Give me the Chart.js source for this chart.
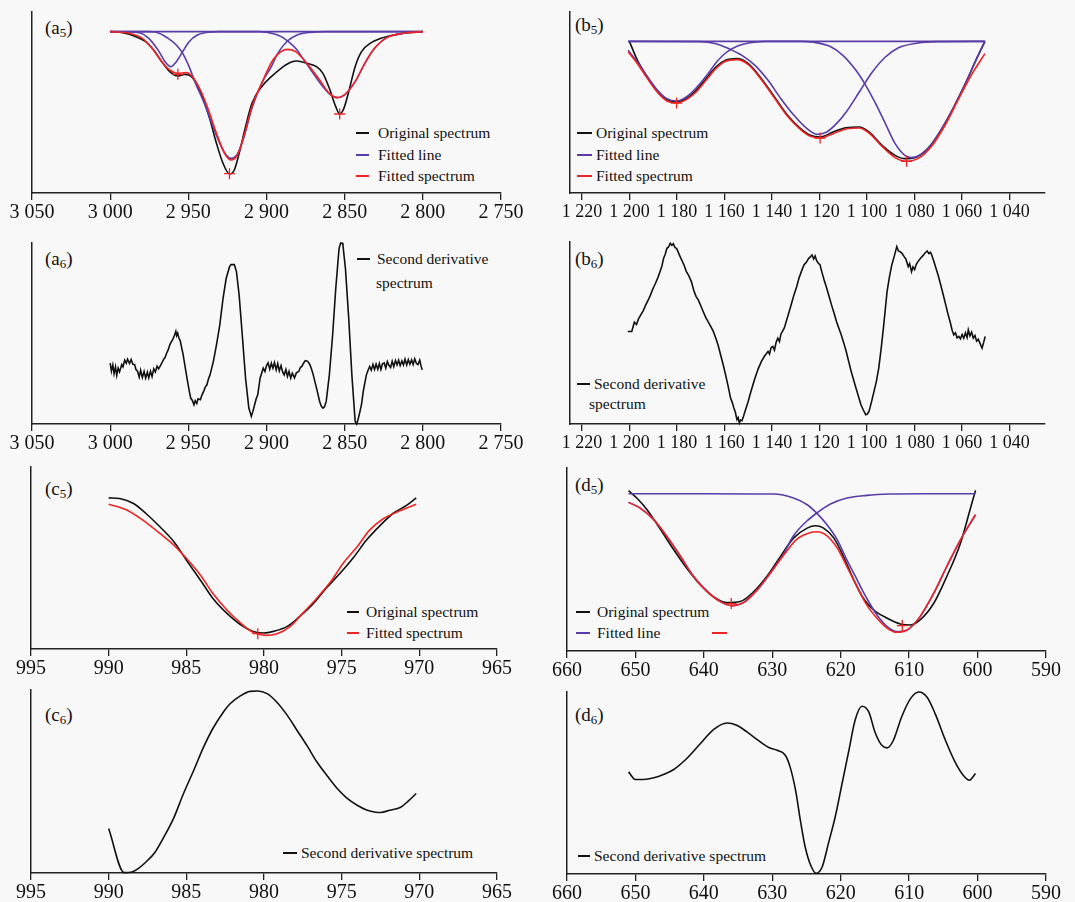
<!DOCTYPE html>
<html><head><meta charset="utf-8">
<script src="https://cdn.jsdelivr.net/npm/chart.js@4.4.1/dist/chart.umd.min.js"></script>
<style>
html,body{margin:0;padding:0;background:#f8f8f8;}
body{width:1075px;height:902px;position:relative;overflow:hidden;font-family:'Liberation Serif','Times New Roman',serif;}
.cv{position:absolute;}
.t{position:absolute;font-size:15.5px;line-height:18px;white-space:nowrap;color:#111;}
.lbl{position:absolute;font-size:19px;line-height:22px;white-space:nowrap;color:#111;}
.lbl sub{font-size:13px;vertical-align:-3px;line-height:0;}
.ln{position:absolute;height:1.6px;}
</style></head><body>

<div class="lbl" style="left:45px;top:17px">(a<sub>5</sub>)</div>
<div class="lbl" style="left:575px;top:14px">(b<sub>5</sub>)</div>
<div class="lbl" style="left:45px;top:248px">(a<sub>6</sub>)</div>
<div class="lbl" style="left:575px;top:248px">(b<sub>6</sub>)</div>
<div class="lbl" style="left:45px;top:478px">(c<sub>5</sub>)</div>
<div class="lbl" style="left:575px;top:474px">(d<sub>5</sub>)</div>
<div class="lbl" style="left:45px;top:704px">(c<sub>6</sub>)</div>
<div class="lbl" style="left:575px;top:704px">(d<sub>6</sub>)</div>

<!-- a5 legend -->
<div class="ln" style="left:356px;top:132px;width:13px;background:#111"></div>
<div class="t" style="left:378px;top:124px">Original spectrum</div>
<div class="ln" style="left:356px;top:154px;width:13px;background:#5a3ca8"></div>
<div class="t" style="left:378px;top:146px">Fitted line</div>
<div class="ln" style="left:356px;top:175px;width:13px;background:#ec2424"></div>
<div class="t" style="left:378px;top:167px">Fitted spectrum</div>

<!-- b5 legend -->
<div class="ln" style="left:577px;top:132px;width:15px;background:#111"></div>
<div class="t" style="left:596px;top:124px">Original spectrum</div>
<div class="ln" style="left:577px;top:154px;width:15px;background:#5a3ca8"></div>
<div class="t" style="left:596px;top:146px">Fitted line</div>
<div class="ln" style="left:577px;top:175px;width:15px;background:#ec2424"></div>
<div class="t" style="left:596px;top:167px">Fitted spectrum</div>

<!-- a6 legend -->
<div class="ln" style="left:357px;top:258px;width:13px;background:#111"></div>
<div class="t" style="left:377px;top:250px">Second derivative</div>
<div class="t" style="left:376px;top:274px">spectrum</div>

<!-- b6 legend -->
<div class="ln" style="left:577px;top:383px;width:13px;background:#111"></div>
<div class="t" style="left:594px;top:375px">Second derivative</div>
<div class="t" style="left:589px;top:395px">spectrum</div>

<!-- c5 legend -->
<div class="ln" style="left:347px;top:611px;width:12px;background:#111"></div>
<div class="t" style="left:366px;top:603px">Original spectrum</div>
<div class="ln" style="left:347px;top:632px;width:12px;background:#ec2424"></div>
<div class="t" style="left:366px;top:624px">Fitted spectrum</div>

<!-- d5 legend -->
<div class="ln" style="left:576px;top:611px;width:14px;background:#111"></div>
<div class="t" style="left:597px;top:603px">Original spectrum</div>
<div class="ln" style="left:576px;top:632px;width:14px;background:#5a3ca8"></div>
<div class="t" style="left:597px;top:624px">Fitted line</div>
<div class="ln" style="left:712px;top:632px;width:15px;background:#ec2424"></div>

<!-- c6 legend -->
<div class="ln" style="left:283px;top:852px;width:14px;background:#111"></div>
<div class="t" style="left:301px;top:844px">Second derivative spectrum</div>

<!-- d6 legend -->
<div class="ln" style="left:578px;top:855px;width:12px;background:#111"></div>
<div class="t" style="left:594px;top:847px">Second derivative spectrum</div>

<script>
// ---------- tick values ----------
const aTicks = [3050, 3000, 2950, 2900, 2850, 2800, 2750];
const bTicks = [1220, 1200, 1180, 1160, 1140, 1120, 1100, 1080, 1060, 1040];
const cTicks = [995, 990, 985, 980, 975, 970, 965];
const dTicks = [660, 650, 640, 630, 620, 610, 600, 590];

// ---------- (a5) ----------
const a5OrigX = [3000,2991.8,2983.5,2977.3,2972.2,2967,2961.9,2956.7,2952.6,2948.5,2944.3,2940.2,2936.1,2932,2927.8,2923.7,2920.6,2917.5,2913.4,2909.3,2903.1,2896.9,2890.7,2884.5,2880.4,2874.2,2868,2863.9,2859.8,2855.7,2853.2,2850.5,2847.4,2843.3,2839.2,2833,2826.8,2818.6,2810.3,2800];
const a5OrigY = [48.4,48.1,46.9,45.4,42.9,39.4,36.4,35.1,35.6,35.1,32.4,27.9,21.9,14.9,8.9,5.7,6.9,11.9,19.9,26.9,31.9,34.9,37.4,39.2,39.6,38.9,37.9,35.9,31.4,25.9,23.7,25.4,30.4,37.9,42.4,45.1,46.4,47.4,48.1,48.4];
const a5FitX = [3000,2987.6,2979.4,2973.2,2967,2961.9,2956.7,2951.5,2947.4,2942.3,2937.1,2932,2926.8,2922.7,2918.6,2914.5,2909.3,2903.1,2895.9,2890.7,2886.6,2881.4,2874.2,2866,2859.8,2854.6,2849.5,2843.3,2837.1,2830.9,2822.7,2812.4,2800];
const a5FitY = [48.4,47.9,46.4,43.4,39.4,36.9,35.9,36.1,34.9,30.9,24.9,17.9,11.9,9.9,11.4,16.9,25.9,32.9,39.9,42.4,43.1,42.4,38.9,33.9,29.9,28.6,29.7,33.4,38.9,43.4,46.7,47.9,48.4];
const a5Line1X = [3000,2987.6,2981.4,2975.3,2969.1,2964.9,2961.2,2957.7,2953.6,2949.5,2944.3,2938.1,2930,2800];
const a5Line1Y = [48.4,48.3,48.1,46.4,42.7,39.4,37.9,39.4,42.4,45.4,47.4,48.2,48.4,48.4];
const a5Line2X = [3000,2975,2971.1,2962.9,2957.7,2953.6,2949.5,2945.4,2940.2,2935,2929.9,2925.8,2922.7,2918.6,2914.5,2909.3,2903.1,2896.9,2892.8,2886.6,2880.4,2872.2,2862,2800];
const a5Line2Y = [48.4,48.4,48.3,46.4,44.4,41.9,37.9,32.9,27.4,20.9,14.9,11.4,10.4,11.7,16.7,25.4,32.9,37.9,41.9,45.6,47.4,48.2,48.4,48.4];
const a5Line3X = [3000,2905,2894.8,2889.7,2886.6,2881.4,2876.3,2870.1,2863.9,2858.8,2854.6,2849.5,2843.3,2837.1,2830.9,2822.7,2812.4,2800];
const a5Line3Y = [48.4,48.4,47.7,46.7,45.6,43.4,40.1,35.9,31.9,29.4,28.6,29.7,33.4,38.9,43.4,46.7,47.9,48.4];
const a5PeakX = [2956.7, 2923.7, 2853.2];
const a5PeakY = [35.6, 5.8, 23.7];

// ---------- (a6) ----------
const a6X = [3000,2999.2,2998.3,2997.5,2996.6,2995.8,2994.9,2994,2992.6,2991.8,2990.7,2989.7,2988.9,2987.6,2986.6,2985.5,2984.4,2983.5,2982.5,2981.4,2980.5,2979.4,2978.3,2977.3,2976.2,2975.3,2974.2,2973.2,2972.1,2971.1,2970,2969,2967,2965.9,2964.9,2963.9,2962.9,2961.8,2960.8,2959.8,2958.8,2958,2957.5,2956.8,2956,2955.2,2954.2,2953.4,2952.6,2951.5,2950.5,2949.5,2948.5,2947.4,2946.4,2945.6,2944.6,2943.8,2942.3,2941.3,2940.2,2939.2,2938.1,2937.1,2936.1,2935,2934,2932,2929.9,2927.8,2925.8,2923.7,2922.7,2920.6,2919.2,2917.5,2915.5,2913.4,2911.3,2909.7,2908.7,2907.6,2906.6,2905.6,2904.1,2902.1,2901,2900,2899,2897.9,2896.9,2895.9,2894.9,2893.8,2892.8,2891.8,2890.7,2889.7,2888.7,2887.6,2886.6,2885.6,2884.5,2883.5,2882.1,2880.9,2879.4,2878.3,2877.3,2876.3,2875.2,2874.2,2873.2,2872.2,2871.1,2870.1,2868,2866,2864.9,2863.9,2862.9,2861.8,2859.8,2857.7,2855.7,2853.6,2852.6,2851.6,2851.1,2849.5,2847.4,2845.4,2843.3,2842.3,2841.3,2840.2,2839.2,2838.1,2837.1,2836.1,2835.1,2834,2833,2831.9,2830.9,2829.9,2828.8,2827.8,2826.8,2825.8,2824.7,2823.7,2822.7,2821.6,2820.6,2819.6,2818.6,2817.5,2816.5,2815.5,2814.5,2813.4,2812.4,2811.4,2810.3,2809.3,2808.3,2807.2,2806.2,2805.2,2804.1,2803.1,2802,2801.2,2800.4];
const a6Y = [18.3,15.9,17.8,15.1,17.2,14.6,16.8,15.7,17.9,17.2,19.2,18.3,19.5,18.2,19.4,18.0,17.9,16.4,15.9,14.1,16.2,14.0,15.8,13.8,15.6,13.9,15.9,14.3,16.6,15.7,17.4,16.6,
  18.3,19.4,20.0,21.3,22.3,23.9,24.8,25.6,26.8,27.9,26.6,27.4,25.8,25.1,22.8,21.1,18.8,15.6,12.8,10.2,7.8,7.1,5.8,7.0,6.2,7.6,7.3,8.7,9.8,11.1,11.8,13.6,14.8,16.9,18.8,23.8,29.8,37.8,43.8,47.3,48.0,48.0,45.8,38.8,26.8,13.8,4.8,2.3,3.8,5.8,7.6,8.8,13.8,16.8,
  15.8,17.6,18.4,16.5,18.3,16.8,18.5,16.3,18.2,16.0,17.6,15.7,14.8,16.4,14.3,15.8,13.8,15.3,13.9,15.4,
  15.8,17.0,17.4,18.3,19.1,19.0,18.6,17.8,16.4,14.8,10.8,6.8,5.3,4.8,5.2,6.8,14.8,26.8,40.8,52.8,54.5,54.5,53.8,46.8,31.8,14.8,0.8,0,1.6,3.8,6.0,9.8,12.4,14.8,16.1,
  17.3,16.2,17.9,16.4,18.0,16.5,18.2,16.4,18.1,18.4,16.8,18.8,17.6,17.0,18.9,17.3,19.1,17.8,19.2,17.6,19.0,17.8,19.5,17.8,19.4,18.0,19.3,17.9,19.6,18.2,17.9,19.2,17.6,16.3];

// ---------- (b5) ----------
const b5OrigX = [1200,1196.6,1192.4,1188.3,1184.2,1180.4,1176,1171.9,1167.7,1163.6,1159.5,1154.7,1149.9,1144.4,1138.9,1133.4,1127.9,1123.8,1119.7,1114.2,1108.7,1103.2,1099.1,1093.6,1088.1,1084,1079.9,1074.4,1068.9,1063.4,1057.9,1053.8,1050.3];
const b5OrigY = [45.5,39.8,34.8,30.8,28.0,27.3,28.3,30.8,34.3,37.8,39.8,40.3,38.8,34.3,28.8,23.3,19.3,17.3,16.8,18.3,19.6,19.8,18.3,14.3,11.3,10.3,10.6,13.3,18.8,25.8,33.8,40.3,45.5];
const b5FitX = [1200.5,1196.6,1192.4,1188.3,1184.2,1180.1,1176,1171.9,1167.7,1163.6,1159.5,1154.7,1149.9,1144.4,1138.9,1133.4,1127.9,1123.8,1119.7,1114.2,1108.7,1103.2,1099.1,1093.6,1088.1,1083.3,1078.5,1073,1067.5,1062,1056.5,1050.3];
const b5FitY = [42.3,38.8,34.3,30.3,27.6,27.0,28.0,30.3,33.8,37.3,39.5,40.0,38.5,34.0,28.5,23.0,19.0,17.0,16.5,17.8,19.2,19.5,18.0,14.0,10.6,9.5,10.3,13.8,19.8,27.3,34.8,41.8];
const b5Line1X = [1200.5,1196.6,1192.4,1188.3,1184.2,1180.1,1176,1171.9,1167.7,1163.6,1159.5,1154.7,1149.9,1143,1050.3];
const b5Line1Y = [42.8,39.2,34.8,30.9,28.3,27.6,28.8,31.5,35.0,39.0,42.0,44.0,45.0,45.5,45.5];
const b5Line2X = [1200.5,1170.5,1163.6,1158.1,1152.6,1147.1,1141.6,1136.2,1130.7,1125.2,1121.1,1116.9,1112.8,1108.7,1103.2,1097.7,1092.2,1086.7,1078.5,1070.3,1050.3];
const b5Line2Y = [45.5,45.4,44.8,43.3,41.3,38.3,33.8,28.3,23.3,19.3,17.6,18.3,20.8,24.3,30.3,36.3,40.8,43.6,45.0,45.4,45.5];
const b5Line3X = [1200.5,1128,1122.4,1115.6,1110.1,1104.6,1100.5,1096.3,1092.2,1088.1,1084,1081.2,1077.1,1073,1068.9,1063.4,1057.9,1053.8,1050.3];
const b5Line3Y = [45.5,45.5,45.2,44.0,41.3,36.8,32.3,26.8,20.8,14.8,11.3,10.6,11.6,14.3,18.8,25.8,33.8,40.3,45.5];
const b5PeakX = [1180.1, 1119.7, 1083.3];
const b5PeakY = [27.0, 16.5, 9.5];

// ---------- (b6) ----------
const b6X = [1200.7,1199,1197.9,1197,1196.2,1195.2,1194.2,1193.1,1192.1,1191.1,1190,1189,1188,1187,1186.3,1185.6,1184.9,1184.2,1183.5,1182.8,1182.1,1181.5,1180.8,1180.1,1179,1178,1177,1176,1175,1173.9,1172.9,1171.9,1171,1169.8,1168.8,1167.7,1166.8,1165.7,1164.7,1163.6,1162.6,1161.6,1160.5,1159.5,1158.5,1157.4,1156.7,1156,1155.4,1154.7,1154.2,1153.7,1153.2,1152.6,1151.9,1151.3,1150.2,1149.2,1148.1,1147.1,1145.8,1144.4,1143,1141.6,1141,1140.3,1139.6,1138.9,1138.2,1137.5,1136.8,1136.2,1134.8,1133.8,1132.7,1131.7,1130.7,1129.6,1128.6,1127.6,1126.5,1125.5,1124.5,1123.8,1123.1,1122.4,1121.8,1121.1,1120.4,1119.7,1119,1118,1116.9,1115.9,1114.9,1113.8,1112.8,1111.8,1110.8,1109.7,1108.7,1107.7,1106.6,1105.6,1104.6,1103.5,1102.5,1101.5,1100.5,1099.8,1099.1,1098,1097,1096,1095,1093.9,1092.9,1092.2,1091.5,1090.5,1089.5,1088.4,1087.4,1086.7,1086,1085.2,1084.3,1083.6,1082.6,1082,1081.2,1080.6,1079.9,1079.2,1078.5,1077.4,1076.4,1075.5,1074.6,1073.9,1073.2,1072.7,1071.8,1070.9,1069.9,1068.9,1067.9,1066.8,1065.8,1064.8,1064.1,1063.4,1062.7,1062,1061.3,1060.6,1059.9,1059.2,1058.5,1057.8,1057.3,1056.6,1055.9,1055.2,1054.5,1053.8,1053.1,1052.4,1051.5,1050.8,1050.2];
const b6Y = [27.8,27.8,30.6,29.9,31.5,32.8,34.0,35.8,37.2,38.8,40.8,42.3,44.0,46.0,47.5,49.8,51.0,52.8,53.2,54.3,53.7,54.2,53.0,52.8,50.9,49.3,47.8,45.8,44.6,42.8,40.2,38.3,37.3,35.3,33.6,31.8,30.7,29.3,27.9,25.8,23.6,20.8,17.8,14.8,11.6,7.8,6.5,4.8,3.6,1.3,1.9,0.3,1.2,1.0,2.4,3.8,6.2,8.8,11.5,13.8,16.5,18.8,20.5,21.8,21.0,23.0,23.3,22.2,24.6,25.8,24.8,27.0,28.8,31.2,33.8,36.3,38.8,41.2,43.8,45.8,47.8,48.6,49.8,50.2,50.8,49.6,50.5,49.0,48.3,47.8,45.8,43.3,40.8,38.3,35.8,33.3,30.8,28.8,26.8,24.3,21.8,18.9,15.8,13.3,10.8,8.2,5.8,4.2,2.8,3.0,3.8,6.8,9.8,12.8,16.8,23.2,29.8,34.8,39.8,44.2,47.8,50.6,53.3,52.0,51.8,51.3,50.3,49.6,47.3,48.2,45.8,47.2,46.4,48.0,48.8,49.8,50.6,51.4,52.0,51.2,51.6,50.8,48.9,46.8,44.5,41.8,39.0,35.8,32.9,30.3,28.2,26.8,27.4,25.9,26.3,25.6,26.9,25.8,27.4,26.0,28.3,26.5,27.6,25.8,26.6,24.9,25.5,24.3,22.8,24.6,26.3];

// ---------- (c5) ----------
const c5OrigX = [990,989.3,988.4,987.6,986.7,985.8,985,984.1,983.3,982.4,981.5,980.7,980,979.4,978.5,977.7,976.8,976,975.1,974.2,973.4,972.5,971.7,970.8,970.2];
const c5OrigY = [45.5,45.3,43.8,40.8,36.8,32.3,26.8,20.8,15.3,10.8,7.3,5.3,4.8,5.3,6.8,9.8,13.8,18.3,22.8,27.8,32.8,37.3,40.8,43.3,45.5];
const c5FitX = [990,988.8,987.8,986.7,985.8,985,984.1,983.3,982.4,981.5,980.7,979.9,979.2,978.3,977.5,976.6,975.7,974.9,974,973.2,972.3,971.4,970.2];
const c5FitY = [43.6,41.8,38.8,34.8,31.3,27.3,22.3,16.8,11.8,7.8,5.0,4.1,4.5,6.8,10.8,15.3,20.3,25.8,30.8,35.8,39.3,41.3,43.6];
const c5PeakX = [980.4];
const c5PeakY = [4.6];

// ---------- (c6) ----------
const c6X = [990,989,988.5,988.1,987.6,987,986.5,985.8,985.2,984.5,983.9,983.3,982.6,982.2,981.5,980.9,980.4,979.8,979.2,978.5,977.9,977.2,976.6,975.9,975.3,974.7,974,973.4,972.8,972.5,971.9,971.2,970.7,970.2];
const c6Y = [13.3,0.1,0.3,1.3,3.3,6.3,10.3,16.6,23.6,31.0,37.6,43.2,48.3,50.6,53.1,54.4,54.5,53.7,51.3,47.2,42.9,37.9,33.3,28.9,25.4,22.6,20.3,18.9,18.2,18.1,18.8,19.7,21.6,23.8];

// ---------- (d5) ----------
const d5OrigX = [651,649.8,648.3,646.3,644.4,642.5,640.5,638.6,636.6,634.7,632.7,630.8,628.8,626.9,624.9,623.7,622.5,621,619.6,618.1,616.7,615.2,613.2,611.3,609.8,608.4,606.4,604.5,602.5,601.1,600.3];
const d5OrigY = [48.0,45.8,42.3,36.3,30.3,24.8,19.8,16.3,14.5,14.8,17.8,22.3,28.3,33.8,36.8,37.5,36.8,33.8,28.3,21.3,15.8,12.3,9.8,8.1,7.8,9.3,14.3,22.3,32.3,42.3,48.1];
const d5FitX = [651,649.3,647.3,645.4,643.4,641.5,639.5,637.6,635.9,634.2,632.2,630.3,628.3,626.4,624.4,623.5,622,620.5,619.1,617.6,616.2,614.7,613.2,611.8,610.3,608.4,606.4,604.5,602.5,600.3];
const d5FitY = [44.5,42.8,39.3,34.3,28.3,22.3,17.8,14.8,13.6,14.5,18.3,23.3,28.8,33.5,35.5,35.7,34.5,30.8,25.3,19.3,13.8,9.8,6.8,5.6,6.3,10.3,17.3,25.3,33.3,40.8];
const d5Line1X = [651,640,629.8,626.9,624.9,623.5,622,620.5,619.1,617.6,616.2,614.7,613.2,611.8,610.3,608.4,606.4,604.5,602.5,600.3];
const d5Line1Y = [47.1,47.1,47.0,45.8,43.8,41.3,37.8,33.3,27.3,21.3,15.8,10.8,7.3,5.8,6.3,10.3,17.3,25.3,33.3,40.8];
const d5Line2X = [651,649.3,647.3,645.4,643.4,641.5,639.5,637.6,635.9,634.2,632.2,630.3,628.3,626.9,624.9,623.5,621.5,619.1,616.2,612.8,608,600.3];
const d5Line2Y = [44.5,42.8,39.3,34.3,28.3,22.3,17.8,14.8,13.6,14.5,18.3,23.3,29.3,34.5,39.0,41.3,44.0,45.8,46.6,47.0,47.1,47.1];
const d5PeakX = [636, 611];
const d5PeakY = [14.2, 7.6];

// ---------- (d6) ----------
const d6X = [651,650,648.8,647.3,645.9,644.4,642.5,640.5,638.6,636.6,635.2,633.7,632.2,630.5,629.3,628.1,627.4,626.6,625.9,625.2,624.4,623.6,622.7,621.8,620.8,619.8,618.8,617.9,616.9,615.9,615,614,613.2,612.3,611.1,609.8,608.6,607.4,606.2,604.7,603.3,602.1,601.2,600.3];
const d6Y = [30.7,28.4,28.4,28.9,29.9,31.4,34.7,39.2,43.4,45.4,44.7,42.7,40.4,38.0,37.2,35.7,32.2,25.2,16.2,8.2,2.7,0.2,2.2,9.2,17.2,27.2,37.2,46.2,50.4,48.7,42.7,38.7,37.9,40.2,47.2,52.7,54.7,53.2,48.2,40.2,33.7,29.7,28.2,30.2];

// ---------- helpers ----------
const BLACK = '#111111', BLUE = '#5a3ca8', RED = '#ec2424';
function pts(xs, ys) { return xs.map((x, i) => ({ x: x, y: ys[i] })); }
function curve(xs, ys, color, smooth) {
  return { data: pts(xs, ys), borderColor: color, backgroundColor: color, borderWidth: 1.6,
    pointRadius: 0, fill: false, clip: false,
    cubicInterpolationMode: smooth ? 'monotone' : 'default', tension: 0 };
}
function marks(xs, ys) {
  return { data: pts(xs, ys), showLine: false, pointStyle: 'cross', pointRadius: 5.5,
    borderColor: RED, backgroundColor: RED, pointBorderWidth: 1.3, clip: false };
}
function fmt(v) {
  if (v >= 1000) { return Math.floor(v / 1000) + ' ' + String(v % 1000).padStart(3, '0'); }
  return String(v);
}

function makePanel(box, xmin, xmax, ymax, ticks, fontSize, datasets) {
  const [xl, xr, yt, yb] = box;
  const padL = 30, padR = 30, padT = 10, axisH = 40;
  const W = xr - xl + padL + padR, H = yb - yt + padT + axisH;
  const c = document.createElement('canvas');
  c.className = 'cv';
  c.width = W; c.height = H;
  c.style.left = (xl - padL) + 'px';
  c.style.top = (yt - padT) + 'px';
  c.style.width = W + 'px'; c.style.height = H + 'px';
  document.body.appendChild(c);
  new Chart(c, {
    type: 'line',
    data: { datasets: datasets },
    options: {
      responsive: false, animation: false, devicePixelRatio: 1, events: [],
      layout: { padding: { left: padL, right: padR, top: padT, bottom: 0 } },
      plugins: { legend: { display: false }, tooltip: { enabled: false } },
      scales: {
        x: {
          type: 'linear', reverse: true, min: xmin, max: xmax,
          afterBuildTicks: s => { s.ticks = ticks.map(v => ({ value: v })); },
          afterFit: s => { s.height = axisH; s.paddingLeft = 0; s.paddingRight = 0; },
          ticks: { autoSkip: false, maxRotation: 0, padding: 1, color: '#111',
            font: { family: "'Liberation Serif', 'Times New Roman', serif", size: fontSize },
            callback: v => fmt(v) },
          grid: { display: true, drawOnChartArea: false, drawTicks: true, tickLength: 7,
            color: '#222', lineWidth: 1.3 },
          border: { display: true, color: '#222', width: 1.5 }
        },
        y: {
          min: 0, max: ymax,
          afterFit: s => { s.width = 0; s.paddingTop = 0; s.paddingBottom = 0; },
          ticks: { display: false },
          grid: { display: false, drawTicks: false },
          border: { display: true, color: '#222', width: 1.5 }
        }
      }
    }
  });
}

makePanel([32, 501, 12, 193], 2750, 3050, 54.3, aTicks, 20, [
  marks(a5PeakX, a5PeakY),
  curve(a5FitX, a5FitY, RED, true),
  curve(a5Line1X, a5Line1Y, BLUE, true),
  curve(a5Line2X, a5Line2Y, BLUE, true),
  curve(a5Line3X, a5Line3Y, BLUE, true),
  curve(a5OrigX, a5OrigY, BLACK, true)
]);
makePanel([32, 501, 243, 424], 2750, 3050, 54.5, aTicks, 20, [
  curve(a6X, a6Y, BLACK, false)
]);
makePanel([570, 1045, 12, 193], 1025, 1225, 54.3, bTicks, 18, [
  marks(b5PeakX, b5PeakY),
  curve(b5FitX, b5FitY, RED, true),
  curve(b5Line1X, b5Line1Y, BLUE, true),
  curve(b5Line2X, b5Line2Y, BLUE, true),
  curve(b5Line3X, b5Line3Y, BLUE, true),
  curve(b5OrigX, b5OrigY, BLACK, true)
]);
makePanel([570, 1045, 242, 424], 1025, 1225, 54.7, bTicks, 18, [
  curve(b6X, b6Y, BLACK, false)
]);
makePanel([31, 497, 467, 649], 965, 995, 54.8, cTicks, 20, [
  marks(c5PeakX, c5PeakY),
  curve(c5FitX, c5FitY, RED, true),
  curve(c5OrigX, c5OrigY, BLACK, true)
]);
makePanel([31, 497, 690, 873], 965, 995, 54.8, cTicks, 20, [
  curve(c6X, c6Y, BLACK, true)
]);
makePanel([567, 1046, 468, 651], 590, 660, 54.8, dTicks, 20, [
  marks(d5PeakX, d5PeakY),
  curve(d5FitX, d5FitY, RED, true),
  curve(d5Line1X, d5Line1Y, BLUE, true),
  curve(d5Line2X, d5Line2Y, BLUE, true),
  curve(d5OrigX, d5OrigY, BLACK, true)
]);
makePanel([567, 1046, 692, 874], 590, 660, 54.7, dTicks, 20, [
  curve(d6X, d6Y, BLACK, true)
]);
</script>
</body></html>
